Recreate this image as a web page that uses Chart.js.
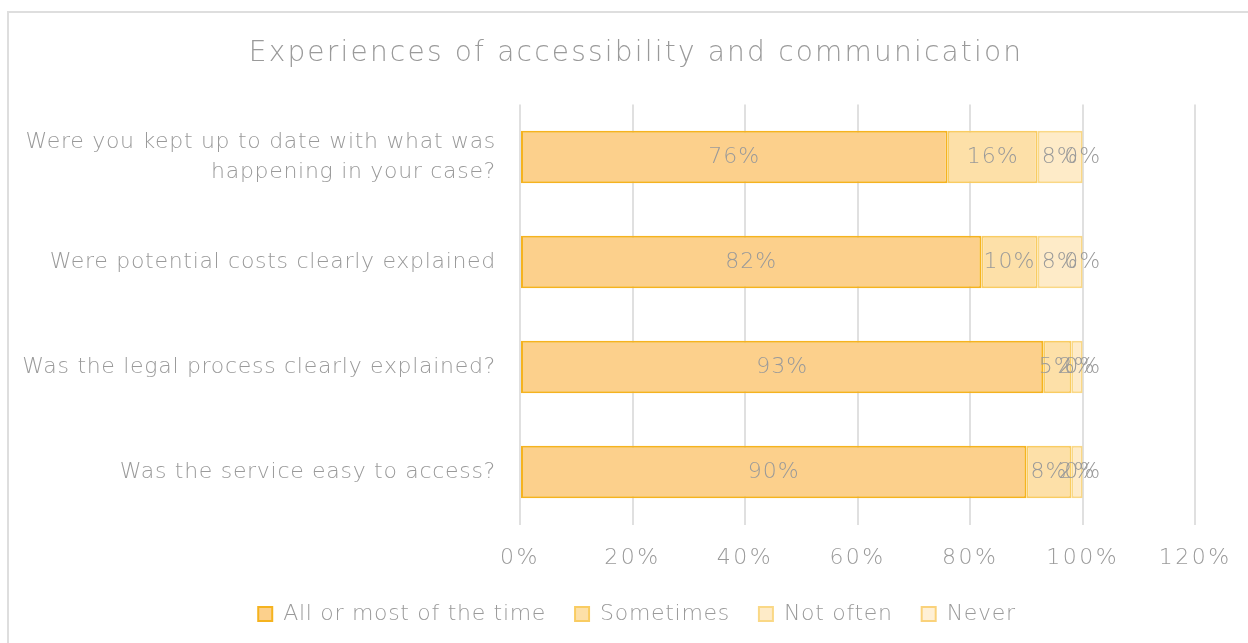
<!DOCTYPE html>
<html>
<head>
<meta charset="utf-8">
<script src="https://cdn.jsdelivr.net/npm/chart.js@4"></script>
<style>
  html, body { margin: 0; padding: 0; background: #fff; }
  #wrap { position: relative; width: 1248px; height: 643px; }
</style>
</head>
<body>
<div id="wrap"><canvas id="grafico"></canvas></div>
<script>
// perguntas do questionario (eixo y)
var perguntas = [
  ["Were you kept up to date with what was", "happening in your case?"],
  "Were potential costs clearly explained",
  "Was the legal process clearly explained?",
  "Was the service easy to access?"
];

// respostas em % por pergunta
var todoTempo = [76, 82, 93, 90];
var asVezes = [16, 10, 5, 8];
var raramente = [8, 8, 2, 2];
var nunca = [0, 0, 0, 0];

var ticksX = [0, 20, 40, 60, 80, 100, 120];

var corTexto = "#9a9a9a";
var fonte = "DejaVu Sans";

// espaco entre os itens da legenda e quanto ele "sobra" na altura
var padLegenda = 29;
var sobraLegenda = padLegenda - 12;

// moldura cinza em volta do grafico
var moldura = {
  id: "moldura",
  afterDraw: function (chart) {
    var ctx = chart.ctx;
    ctx.save();
    ctx.strokeStyle = "#dedede";
    ctx.lineWidth = 2;
    ctx.beginPath();
    ctx.moveTo(8, 700);
    ctx.lineTo(8, 12);
    ctx.lineTo(1300, 12);
    ctx.stroke();
    ctx.restore();
  }
};

// espacamento entre letras (o canvas perde o estado quando redimensiona)
function espacar(ctx, px) {
  if ("letterSpacing" in ctx) ctx.letterSpacing = px + "px";
}

// envolve o desenho de uma caixa com deslocamento e espacamento proprio
function envolver(obj, metodo, dx, dy, esp, subir) {
  if (!obj || obj["_orig_" + metodo]) return;
  var orig = obj[metodo];
  obj["_orig_" + metodo] = orig;
  obj[metodo] = function () {
    var ctx = this.ctx;
    var topo = this.top;
    ctx.save();
    ctx.translate(dx, dy);
    espacar(ctx, esp);
    if (subir) this.top = topo - subir;
    orig.apply(this, arguments);
    this.top = topo;
    ctx.restore();
  };
}

var espacamento = {
  id: "espacamento",
  beforeLayout: function (chart) {
    espacar(chart.ctx, 0.7);
    var leg = chart.legend;
    if (leg && !leg._orig_fit) {
      leg._orig_fit = leg.fit;
      leg.fit = function () {
        leg._orig_fit.apply(this, arguments);
        this.height -= sobraLegenda;
      };
    }
  },
  beforeDraw: function (chart) {
    espacar(chart.ctx, 0.7);
    envolver(chart.titleBlock, "draw", 33, 2, 2.2, 0);
    envolver(chart.legend, "draw", 34, 0, 0.7, sobraLegenda);
    envolver(chart.scales.x, "drawLabels", 0, 0, 2.5, 0);
  }
};

// escreve o valor no meio de cada pedaco da barra
var rotulos = {
  id: "rotulos",
  afterDatasetsDraw: function (chart) {
    var ctx = chart.ctx;
    ctx.save();
    ctx.font = "200 22px '" + fonte + "'";
    ctx.fillStyle = corTexto;
    ctx.textAlign = "center";
    ctx.textBaseline = "middle";
    espacar(ctx, 1);
    chart.data.datasets.forEach(function (ds, i) {
      var meta = chart.getDatasetMeta(i);
      meta.data.forEach(function (bar, j) {
        var x = (bar.x + bar.base) / 2;
        ctx.fillText(ds.data[j] + "%", x, bar.y);
      });
    });
    ctx.restore();
  }
};

function serie(nome, dados, fundo, borda) {
  return {
    label: nome,
    data: dados,
    backgroundColor: fundo,
    borderColor: borda,
    borderWidth: 2,
    borderSkipped: false,
    categoryPercentage: 1,
    barPercentage: 0.5
  };
}

var ctx = document.getElementById("grafico").getContext("2d");

var grafico = new Chart(ctx, {
  type: "bar",
  data: {
    labels: perguntas,
    datasets: [
      serie("All or most of the time", todoTempo, "#fcd08c", "#f5b31f"),
      serie("Sometimes", asVezes, "#fde0a8", "#f9cc62"),
      serie("Not often", raramente, "#feebc8", "#fad886"),
      serie("Never", nunca, "#fff0d6", "#fad27b")
    ]
  },
  options: {
    indexAxis: "y",
    responsive: true,
    maintainAspectRatio: false,
    animation: false,
    layout: {
      padding: { left: 10, right: 52, top: 12, bottom: 8 }
    },
    plugins: {
      title: {
        display: true,
        text: "Experiences of accessibility and communication",
        color: corTexto,
        font: { family: fonte, size: 28, weight: 200 },
        padding: { top: 23, bottom: 36 }
      },
      legend: {
        position: "bottom",
        labels: {
          color: corTexto,
          font: { family: fonte, size: 22, weight: 200 },
          boxWidth: 14,
          boxHeight: 14,
          padding: padLegenda
        }
      },
      tooltip: { enabled: false }
    },
    scales: {
      x: {
        stacked: true,
        min: 0,
        max: 120,
        afterBuildTicks: function (scale) {
          scale.ticks = ticksX.map(function (v) { return { value: v }; });
        },
        grid: {
          color: "#e0e0e0",
          lineWidth: 2,
          drawTicks: false
        },
        border: { display: false },
        ticks: {
          color: corTexto,
          padding: 20,
          font: { family: fonte, size: 22, weight: 200 },
          callback: function (v) { return v + "%"; }
        }
      },
      y: {
        stacked: true,
        grid: { display: false, drawTicks: false },
        border: { display: false },
        afterFit: function (scale) {
          scale.width = 510;
        },
        ticks: {
          color: corTexto,
          padding: 24,
          font: { family: fonte, size: 22, weight: 200, lineHeight: 1.35 }
        }
      }
    }
  },
  plugins: [espacamento, rotulos, moldura]
});
</script>
</body>
</html>
